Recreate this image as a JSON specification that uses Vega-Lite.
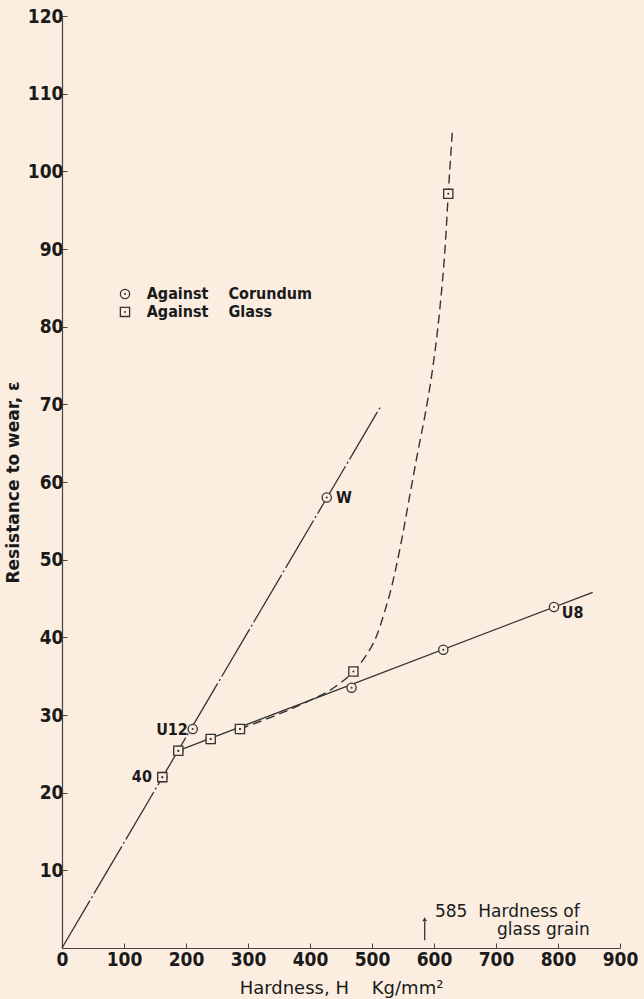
{
  "$schema": "https://vega.github.io/schema/vega-lite/v6.json",
  "width": 558,
  "height": 932,
  "autosize": "none",
  "padding": {"left": 62, "top": 16, "right": 24, "bottom": 51},
  "background": "#fbeee1",
  "config": {
    "view": {"stroke": null},
    "font": "DejaVu Sans Condensed, DejaVu Sans, sans-serif",
    "axis": {
      "grid": false,
      "domainColor": "#444",
      "domainWidth": 1.2,
      "tickColor": "#444",
      "tickSize": -5,
      "labelFlush": false,
      "labelOverlap": false,
      "labelColor": "#1a1a1a",
      "labelFontSize": 19,
      "labelFontWeight": "bold",
      "labelFont": "Liberation Sans Narrow, DejaVu Sans Condensed, sans-serif",
      "titleColor": "#1a1a1a",
      "titleFontWeight": "bold"
    }
  },
  "datasets": {
    "chain": [{"x": 0, "y": 0}, {"x": 513, "y": 69.6}],
    "solid": [{"x": 187.6, "y": 25.4}, {"x": 856, "y": 45.8}],
    "dashed": [
      {"x": 287, "y": 28.2}, {"x": 340, "y": 29.8}, {"x": 395, "y": 31.7}, {"x": 440, "y": 33.6},
      {"x": 470, "y": 35.6}, {"x": 490, "y": 37.6}, {"x": 507, "y": 40.1}, {"x": 520, "y": 43.2},
      {"x": 531, "y": 46.3}, {"x": 547, "y": 52.2}, {"x": 561, "y": 58.3}, {"x": 574, "y": 63.9},
      {"x": 585, "y": 68.4}, {"x": 596, "y": 73.6}, {"x": 609, "y": 82.0}, {"x": 618, "y": 90.3},
      {"x": 623, "y": 97.1}, {"x": 630, "y": 105.6}
    ],
    "points": [
      {"x": 161.8, "y": 22.0, "shape": "circle"},
      {"x": 187.6, "y": 25.4, "shape": "circle"},
      {"x": 210.8, "y": 28.2, "shape": "circle"},
      {"x": 239.8, "y": 26.9, "shape": "circle"},
      {"x": 287, "y": 28.2, "shape": "circle"},
      {"x": 427, "y": 58.0, "shape": "circle"},
      {"x": 467, "y": 33.5, "shape": "circle"},
      {"x": 615, "y": 38.4, "shape": "circle"},
      {"x": 793.5, "y": 43.9, "shape": "circle"},
      {"x": 101.6, "y": 84.2, "shape": "circle"},
      {"x": 161.8, "y": 22.0, "shape": "square"},
      {"x": 187.6, "y": 25.4, "shape": "square"},
      {"x": 239.8, "y": 26.9, "shape": "square"},
      {"x": 287, "y": 28.2, "shape": "square"},
      {"x": 470, "y": 35.6, "shape": "square"},
      {"x": 623, "y": 97.1, "shape": "square"},
      {"x": 101.6, "y": 81.9, "shape": "square"}
    ],
    "legendText": [
      {"x": 136.6, "y": 84.2, "t": "Against\u00a0\u00a0\u00a0\u00a0Corundum"},
      {"x": 136.6, "y": 81.9, "t": "Against\u00a0\u00a0\u00a0\u00a0Glass"}
    ],
    "labelsR": [{"x": 145, "y": 22.0, "t": "40"}, {"x": 203, "y": 28.1, "t": "U12"}],
    "labelsL": [{"x": 442, "y": 58.0, "t": "W"}, {"x": 806, "y": 43.1, "t": "U8"}],
    "notes": [{"x": 601.6, "y": 4.6, "t": "585\u00a0\u00a0Hardness of"}, {"x": 701.6, "y": 2.3, "t": "glass grain"}],
    "arrow": [{"x": 585, "y": 1.0, "y2": 3.4}],
    "arrowHead": [{"x": 585, "y": 3.7}]
  },
  "encoding": {
    "x": {"field": "x", "type": "quantitative", "scale": {"domain": [0, 900], "nice": false},
      "axis": {"values": [0, 100, 200, 300, 400, 500, 600, 700, 800, 900], "title": "Hardness,\u00a0H\u00a0\u00a0\u00a0\u00a0Kg/mm\u00b2", "labelPadding": 7, "titleY": 45, "titleBaseline": "alphabetic", "titleFontWeight": "normal", "titleFont": "DejaVu Sans", "titleFontSize": 18}},
    "y": {"field": "y", "type": "quantitative", "scale": {"domain": [0, 120], "nice": false},
      "axis": {"values": [10, 20, 30, 40, 50, 60, 70, 80, 90, 100, 110, 120], "title": "Resistance to wear, \u03b5", "labelPadding": 4, "titleX": -40, "titleY": 466, "titleFont": "DejaVu Sans", "titleFontSize": 17}}
  },
  "layer": [
    {
      "data": {"name": "chain"},
      "mark": {"type": "line", "color": "#333", "strokeWidth": 1.3, "strokeDash": [55, 3, 2, 3]}
    },
    {
      "data": {"name": "solid"},
      "mark": {"type": "line", "color": "#333", "strokeWidth": 1.3}
    },
    {
      "data": {"name": "dashed"},
      "mark": {"type": "line", "color": "#333", "strokeWidth": 1.4, "strokeDash": [9, 5], "interpolate": "monotone"}
    },
    {
      "data": {"name": "points"},
      "mark": {"type": "point", "filled": true, "fill": "#fbeee1", "stroke": "#333", "strokeWidth": 1.3, "opacity": 1, "size": 85},
      "encoding": {
        "shape": {"field": "shape", "type": "nominal", "scale": null, "legend": null}
      }
    },
    {
      "data": {"name": "points"},
      "mark": {"type": "point", "filled": true, "color": "#333", "size": 4, "opacity": 1, "shape": "circle"}
    },
    {
      "data": {"name": "legendText"},
      "mark": {"type": "text", "align": "left", "baseline": "middle", "fontSize": 16, "fontWeight": "bold", "color": "#1a1a1a"},
      "encoding": {"text": {"field": "t"}}
    },
    {
      "data": {"name": "labelsR"},
      "mark": {"type": "text", "align": "right", "baseline": "middle", "fontSize": 16, "fontWeight": "bold", "color": "#1a1a1a"},
      "encoding": {"text": {"field": "t"}}
    },
    {
      "data": {"name": "labelsL"},
      "mark": {"type": "text", "align": "left", "baseline": "middle", "fontSize": 16, "fontWeight": "bold", "color": "#1a1a1a"},
      "encoding": {"text": {"field": "t"}}
    },
    {
      "data": {"name": "notes"},
      "mark": {"type": "text", "align": "left", "baseline": "middle", "fontSize": 17, "font": "DejaVu Sans", "color": "#1a1a1a"},
      "encoding": {"text": {"field": "t"}}
    },
    {
      "data": {"name": "arrow"},
      "mark": {"type": "rule", "color": "#333", "strokeWidth": 1.3},
      "encoding": {"y2": {"field": "y2"}}
    },
    {
      "data": {"name": "arrowHead"},
      "mark": {"type": "point", "shape": "triangle-up", "filled": true, "color": "#333", "size": 22, "opacity": 1}
    }
  ]
}
